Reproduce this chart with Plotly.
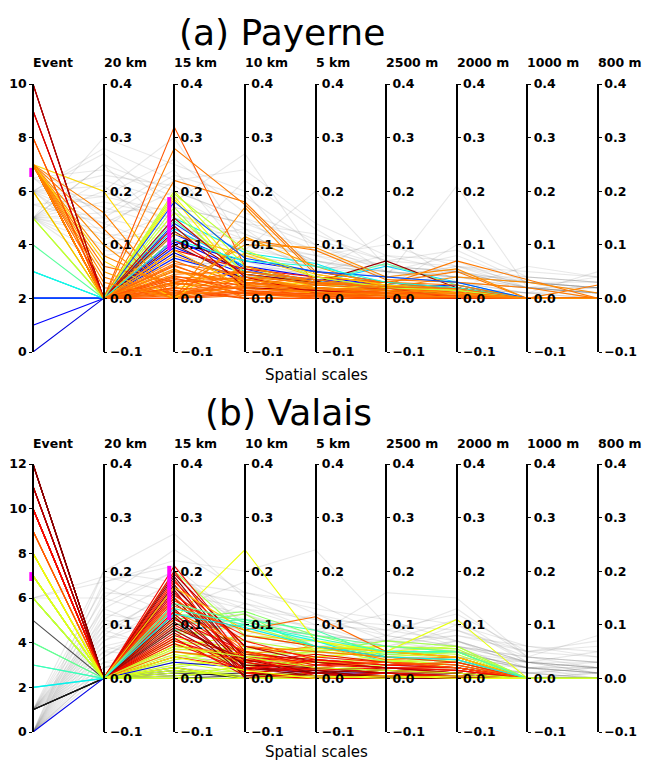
import numpy as np
import plotly.graph_objects as go

# ---------------------------------------------------------------- data
SCALES = ["20 km", "15 km", "10 km", "5 km", "2500 m", "2000 m", "1000 m", "800 m"]
AXIS_NAMES = ["Event"] + SCALES
SCORE_TICKS = [-0.1, 0.0, 0.1, 0.2, 0.3, 0.4]

# Payerne: highlighted events (event index, colour value, scores per scale)
payerne_event = [0, 1, 2, 2, 2, 2, 2, 3, 3, 4, 5, 5, 6, 6, 7, 7, 10, 10, 9, 9,
                 8, 7, 7, 7, 7, 7, 7, 7, 7, 7, 7, 7, 7, 7, 7, 7, 7, 7, 7, 7,
                 7, 7, 7, 7, 7, 7, 7, 7, 8, 6, 7, 7, 7, 10, 9, 2, 3, 5,
                 7, 7, 7, 7, 7, 8, 7, 7, 7, 7]
payerne_hue = [0.08, 0.12, 0.15, 0.13, 0.17, 0.14, 0.16, 0.36, 0.33, 0.46, 0.56, 0.60, 0.63, 0.61, 0.66, 0.68, 1.00, 0.98, 0.88, 0.90,
               0.82, 0.78, 0.78, 0.76, 0.78, 0.76, 0.74, 0.77, 0.79, 0.80, 0.78, 0.77, 0.80, 0.79, 0.80, 0.81, 0.78, 0.79, 0.80, 0.81,
               0.77, 0.80, 0.76, 0.82, 0.80, 0.79, 0.80, 0.82, 0.80, 0.72, 0.70, 0.69, 0.83, 0.95, 0.93, 0.20, 0.38, 0.58,
               0.80, 0.79, 0.81, 0.78, 0.80, 0.82, 0.77, 0.80, 0.79, 0.76]
payerne_scores = [
    [0, 0.085, 0.03, 0.02, 0.01, 0.005, 0, 0],
    [0, 0.11, 0.05, 0.035, 0.025, 0.015, 0, 0],
    [0, 0.095, 0.045, 0.03, 0.02, 0.02, 0, 0],
    [0, 0.12, 0.06, 0.04, 0.025, 0.02, 0, 0],
    [0, 0.14, 0.055, 0.025, 0.02, 0.025, 0, 0],
    [0, 0.105, 0.07, 0.05, 0.03, 0.015, 0, 0],
    [0, 0.075, 0.04, 0.035, 0.015, 0.01, 0, 0],
    [0, 0.15, 0.085, 0.065, 0.02, 0.01, 0, 0],
    [0, 0.13, 0.06, 0.03, 0.06, 0.03, 0, 0],
    [0, 0.145, 0.05, 0.03, 0.065, 0.025, 0, 0],
    [0, 0.17, 0.03, 0.015, 0.01, 0.005, 0, 0],
    [0, 0.16, 0.04, 0.03, 0.025, 0.02, 0, 0],
    [0, 0.19, 0.045, 0.025, 0.02, 0.01, 0, 0],
    [0, 0.2, 0.06, 0.02, 0.015, 0.01, 0, 0],
    [0, 0.185, 0.03, 0.02, 0.01, 0.01, 0, 0],
    [0.2, 0.02, 0.035, 0.025, 0.015, 0.005, 0, 0],
    [0, 0.1, 0.035, 0.02, 0.015, 0.01, 0, 0],
    [0, 0.125, 0.045, 0.03, 0.07, 0.02, 0, 0],
    [0, 0.11, 0.03, 0.02, 0.01, 0.005, 0, 0],
    [0, 0.09, 0.055, 0.04, 0.03, 0.02, 0, 0],
    [0, 0.32, 0.06, 0.03, 0.02, 0.015, 0, 0],
    [0, 0.28, 0.175, 0.045, 0.025, 0.07, 0.035, 0],
    [0, 0.22, 0.18, 0.05, 0.03, 0.05, 0.0, 0.025],
    [0.1, 0.0, 0.17, 0.03, 0.02, 0.04, 0.03, 0.01],
    [0.13, 0.0, 0.11, 0.09, 0.035, 0.03, 0.02, 0],
    [0.08, 0.02, 0.1, 0.095, 0.04, 0.055, 0.0, 0.0],
    [0.05, 0.0, 0.115, 0.06, 0.02, 0.015, 0, 0],
    [0.16, 0.0, 0.04, 0.02, 0.01, 0.0, 0, 0],
    [0.06, 0.03, 0.05, 0.03, 0.02, 0.01, 0, 0],
    [0, 0.06, 0.02, 0.01, 0.005, 0.0, 0, 0],
    [0, 0.05, 0.03, 0.015, 0.02, 0.01, 0, 0],
    [0, 0.04, 0.035, 0.02, 0.01, 0.02, 0, 0],
    [0, 0.02, 0.01, 0.005, 0.01, 0.0, 0, 0],
    [0, 0.01, 0.02, 0.01, 0.0, 0.005, 0, 0],
    [0, 0.03, 0.005, 0.02, 0.015, 0.0, 0, 0],
    [0, 0.0, 0.015, 0.0, 0.0, 0.0, 0, 0],
    [0, 0.045, 0.05, 0.035, 0.02, 0.01, 0, 0],
    [0, 0.07, 0.025, 0.04, 0.03, 0.015, 0, 0],
    [0, 0.025, 0.04, 0.01, 0.005, 0.02, 0, 0],
    [0, 0.015, 0.0, 0.0, 0.01, 0.0, 0, 0],
    [0.04, 0.0, 0.06, 0.03, 0.025, 0.01, 0, 0],
    [0.02, 0.01, 0.01, 0.0, 0.0, 0.0, 0, 0],
    [0, 0.055, 0.0, 0.005, 0.0, 0.0, 0, 0],
    [0, 0.035, 0.025, 0.015, 0.01, 0.005, 0, 0],
    [0, 0.005, 0.03, 0.02, 0.005, 0.0, 0, 0],
    [0, 0.065, 0.045, 0.025, 0.03, 0.025, 0, 0],
    [0, 0.0, 0.005, 0.01, 0.02, 0.0, 0, 0],
    [0, 0.02, 0.0, 0.0, 0.0, 0.0, 0, 0],
    [0, 0.012, 0.02, 0.015, 0.01, 0.0, 0, 0],
    [0, 0.09, 0.02, 0.01, 0.02, 0.01, 0, 0],
    [0, 0.12, 0.08, 0.04, 0.02, 0.01, 0, 0],
    [0.07, 0.0, 0.085, 0.045, 0.025, 0.015, 0, 0],
    [0, 0.0, 0.01, 0.005, 0.0, 0.0, 0, 0],
    [0, 0.135, 0.02, 0.015, 0.005, 0.0, 0, 0],
    [0, 0.15, 0.04, 0.01, 0.02, 0.0, 0, 0],
    [0, 0.18, 0.075, 0.05, 0.04, 0.03, 0, 0],
    [0, 0.11, 0.07, 0.06, 0.03, 0.02, 0, 0],
    [0, 0.195, 0.09, 0.04, 0.02, 0.015, 0, 0],
    [0, 0.008, 0.012, 0.008, 0.004, 0.003, 0, 0],
    [0, 0.028, 0.018, 0.012, 0.008, 0.006, 0, 0],
    [0, 0.038, 0.008, 0.003, 0.006, 0.002, 0, 0],
    [0, 0.052, 0.028, 0.018, 0.012, 0.008, 0, 0],
    [0, 0.018, 0.022, 0.025, 0.018, 0.012, 0, 0],
    [0, 0.042, 0.015, 0.008, 0.015, 0.004, 0, 0],
    [0.03, 0.0, 0.025, 0.012, 0.006, 0.003, 0, 0],
    [0, 0.062, 0.012, 0.006, 0.002, 0.001, 0, 0],
    [0, 0.03, 0.04, 0.028, 0.022, 0.018, 0, 0],
    [0, 0.08, 0.035, 0.02, 0.015, 0.01, 0, 0],
]

# Payerne: remaining (non-highlighted) cases
payerne_bg_event = [5, 5, 5, 5, 5, 5, 5, 5, 5, 5, 5, 5, 6, 6, 6, 6, 6, 6, 6, 6,
                    6.5, 6.5, 6.5, 7, 7, 7, 5.5, 5.5, 6, 5]
payerne_bg_scores = [
    [0.3, 0.25, 0.2, 0.05, 0.03, 0.02, 0.0, 0.0],
    [0.25, 0.2, 0.15, 0.1, 0.05, 0.03, 0.02, 0.01],
    [0.22, 0.18, 0.27, 0.08, 0.04, 0.05, 0.03, 0.02],
    [0.2, 0.3, 0.1, 0.06, 0.04, 0.03, 0.01, 0.0],
    [0.18, 0.15, 0.12, 0.07, 0.04, 0.21, 0.02, 0.01],
    [0.15, 0.12, 0.09, 0.2, 0.06, 0.04, 0.03, 0.02],
    [0.13, 0.22, 0.18, 0.05, 0.12, 0.03, 0.01, 0.05],
    [0.12, 0.08, 0.06, 0.04, 0.03, 0.02, 0.06, 0.04],
    [0.1, 0.14, 0.07, 0.03, 0.02, 0.1, 0.04, 0.03],
    [0.08, 0.1, 0.05, 0.05, 0.04, 0.03, 0.02, 0.02],
    [0.06, 0.05, 0.04, 0.03, 0.03, 0.02, 0.01, 0.01],
    [0.25, 0.12, 0.08, 0.06, 0.05, 0.04, 0.03, 0.03],
    [0.27, 0.17, 0.14, 0.09, 0.06, 0.05, 0.02, 0.01],
    [0.23, 0.21, 0.13, 0.04, 0.03, 0.04, 0.02, 0.0],
    [0.19, 0.26, 0.16, 0.11, 0.07, 0.09, 0.03, 0.02],
    [0.17, 0.13, 0.11, 0.05, 0.04, 0.06, 0.04, 0.03],
    [0.14, 0.09, 0.22, 0.13, 0.05, 0.04, 0.02, 0.04],
    [0.11, 0.16, 0.1, 0.08, 0.06, 0.05, 0.03, 0.02],
    [0.09, 0.07, 0.06, 0.05, 0.08, 0.07, 0.02, 0.01],
    [0.21, 0.11, 0.05, 0.03, 0.02, 0.02, 0.01, 0.0],
    [0.24, 0.19, 0.12, 0.07, 0.05, 0.08, 0.03, 0.01],
    [0.16, 0.24, 0.08, 0.06, 0.03, 0.02, 0.01, 0.02],
    [0.12, 0.11, 0.13, 0.09, 0.04, 0.03, 0.02, 0.01],
    [0.2, 0.14, 0.09, 0.07, 0.05, 0.04, 0.04, 0.03],
    [0.15, 0.23, 0.19, 0.1, 0.06, 0.05, 0.02, 0.01],
    [0.1, 0.06, 0.07, 0.04, 0.03, 0.06, 0.03, 0.02],
    [0.19, 0.16, 0.11, 0.08, 0.1, 0.06, 0.05, 0.04],
    [0.14, 0.2, 0.15, 0.06, 0.05, 0.04, 0.03, 0.02],
    [0.28, 0.22, 0.24, 0.14, 0.08, 0.05, 0.02, 0.01],
    [0.16, 0.17, 0.14, 0.12, 0.07, 0.06, 0.02, 0.02],
]
payerne_event_band = [6.53, 6.87]
payerne_15km_band = [0.09, 0.189]

# Valais: highlighted events (None colour value = drawn in black)
valais_event = [6, 6, 6, 7, 7, 7, 8, 8, 6, 7, 6, 7, 8, 6, 7, 8, 6, 6, 4, 3,
                2, 8, 7, 6, 8, 7, 5, 1, 1, 0,
                12, 12, 11, 11, 10, 10, 10, 10, 12, 11, 10, 10, 12, 11, 10, 10, 10, 11, 12, 10,
                10, 9, 9, 9, 9, 10, 11, 10, 12, 11, 10, 10, 12, 9, 8,
                3, 2, 4, 7, 8, 6, 1, 1]
valais_hue = [0.60, 0.60, 0.58, 0.60, 0.61, 0.59, 0.60, 0.60, 0.58, 0.57, 0.60, 0.60, 0.60, 0.59, 0.60, 0.60, 0.55, 0.52, 0.48, 0.44,
              0.38, 0.64, 0.63, 0.56, 0.62, 0.60, None, None, None, 0.10,
              1.00, 0.99, 0.97, 0.96, 0.90, 0.90, 0.88, 0.92, 0.95, 0.93, 0.90, 0.89, 0.97, 0.92, 0.90, 0.91, 0.90, 0.94, 0.98, 0.87,
              0.86, 0.80, 0.78, 0.76, 0.80, 0.90, 0.95, 0.88, 1.00, 0.96, 0.90, 0.90, 0.99, 0.82, 0.70,
              0.42, 0.36, 0.47, 0.62, 0.64, 0.60, None, None]
valais_scores = [
    [0, 0.0, 0.0, 0.0, 0.0, 0.0, 0, 0],
    [0, 0.01, 0.02, 0.03, 0.02, 0.02, 0, 0],
    [0, 0.02, 0.04, 0.05, 0.04, 0.03, 0, 0],
    [0, 0.03, 0.01, 0.02, 0.01, 0.01, 0, 0],
    [0, 0.04, 0.06, 0.04, 0.05, 0.06, 0, 0],
    [0, 0.05, 0.03, 0.06, 0.03, 0.04, 0, 0],
    [0, 0.06, 0.08, 0.07, 0.04, 0.05, 0, 0],
    [0, 0.07, 0.05, 0.03, 0.035, 0.02, 0, 0],
    [0, 0.08, 0.1, 0.06, 0.05, 0.045, 0, 0],
    [0, 0.09, 0.07, 0.05, 0.06, 0.055, 0, 0],
    [0, 0.015, 0.005, 0.01, 0.015, 0.01, 0, 0],
    [0, 0.025, 0.035, 0.015, 0.025, 0.03, 0, 0],
    [0, 0.045, 0.02, 0.035, 0.02, 0.015, 0, 0],
    [0, 0.035, 0.05, 0.045, 0.03, 0.035, 0, 0],
    [0, 0.055, 0.045, 0.025, 0.045, 0.04, 0, 0],
    [0, 0.005, 0.015, 0.02, 0.01, 0.005, 0, 0],
    [0, 0.1, 0.12, 0.05, 0.07, 0.06, 0, 0],
    [0, 0.11, 0.125, 0.08, 0.05, 0.04, 0, 0],
    [0, 0.12, 0.11, 0.06, 0.045, 0.05, 0, 0],
    [0, 0.1, 0.11, 0.09, 0.04, 0.03, 0, 0],
    [0, 0.09, 0.1, 0.07, 0.03, 0.02, 0, 0],
    [0, 0.11, 0.24, 0.07, 0.05, 0.04, 0, 0],
    [0, 0.065, 0.03, 0.04, 0.05, 0.11, 0, 0],
    [0, 0.2, 0.08, 0.06, 0.04, 0.03, 0, 0],
    [0, 0.075, 0.055, 0.055, 0.06, 0.05, 0, 0],
    [0, 0.0, 0.025, 0.03, 0.035, 0.025, 0, 0],
    [0, 0.02, 0.0, 0.01, 0.005, 0.0, 0, 0],
    [0, 0.005, 0.01, 0.0, 0.0, 0.0, 0, 0],
    [0, 0.01, 0.005, 0.005, 0.0, 0.0, 0, 0],
    [0, 0.03, 0.02, 0.01, 0.01, 0.005, 0, 0],
    [0, 0.19, 0.03, 0.01, 0.02, 0.01, 0, 0],
    [0, 0.15, 0.02, 0.015, 0.01, 0.005, 0, 0],
    [0, 0.17, 0.04, 0.02, 0.01, 0.01, 0, 0],
    [0, 0.13, 0.01, 0.005, 0.005, 0.0, 0, 0],
    [0, 0.21, 0.05, 0.03, 0.02, 0.015, 0, 0],
    [0, 0.2, 0.035, 0.02, 0.015, 0.01, 0, 0],
    [0, 0.18, 0.06, 0.04, 0.03, 0.02, 0, 0],
    [0, 0.16, 0.025, 0.01, 0.005, 0.005, 0, 0],
    [0, 0.14, 0.045, 0.035, 0.025, 0.02, 0, 0],
    [0, 0.12, 0.015, 0.02, 0.01, 0.0, 0, 0],
    [0, 0.11, 0.05, 0.025, 0.03, 0.025, 0, 0],
    [0, 0.1, 0.03, 0.015, 0.02, 0.01, 0, 0],
    [0, 0.09, 0.02, 0.01, 0.005, 0.005, 0, 0],
    [0, 0.085, 0.01, 0.02, 0.015, 0.01, 0, 0],
    [0, 0.08, 0.04, 0.03, 0.02, 0.02, 0, 0],
    [0, 0.075, 0.005, 0.0, 0.0, 0.0, 0, 0],
    [0, 0.07, 0.03, 0.045, 0.03, 0.02, 0, 0],
    [0, 0.165, 0.0, 0.01, 0.005, 0.0, 0, 0],
    [0, 0.175, 0.02, 0.005, 0.01, 0.0, 0, 0],
    [0, 0.155, 0.07, 0.035, 0.025, 0.03, 0, 0],
    [0, 0.145, 0.08, 0.06, 0.04, 0.03, 0, 0],
    [0, 0.135, 0.09, 0.115, 0.05, 0.04, 0, 0],
    [0, 0.125, 0.06, 0.05, 0.04, 0.035, 0, 0],
    [0, 0.06, 0.045, 0.06, 0.035, 0.04, 0, 0],
    [0, 0.05, 0.035, 0.03, 0.03, 0.025, 0, 0],
    [0, 0.04, 0.02, 0.025, 0.02, 0.015, 0, 0],
    [0, 0.195, 0.06, 0.03, 0.02, 0.01, 0, 0],
    [0, 0.185, 0.01, 0.0, 0.005, 0.005, 0, 0],
    [0, 0.105, 0.025, 0.02, 0.015, 0.01, 0, 0],
    [0, 0.095, 0.035, 0.01, 0.0, 0.0, 0, 0],
    [0, 0.065, 0.015, 0.035, 0.025, 0.02, 0, 0],
    [0, 0.125, 0.04, 0.005, 0.01, 0.005, 0, 0],
    [0, 0.115, 0.005, 0.015, 0.0, 0.0, 0, 0],
    [0, 0.15, 0.05, 0.02, 0.03, 0.02, 0, 0],
    [0, 0.17, 0.09, 0.06, 0.05, 0.04, 0, 0],
    [0, 0.13, 0.1, 0.075, 0.05, 0.05, 0, 0],
    [0, 0.12, 0.095, 0.06, 0.04, 0.035, 0, 0],
    [0, 0.14, 0.105, 0.08, 0.06, 0.05, 0, 0],
    [0, 0.02, 0.0, 0.005, 0.0, 0.005, 0, 0],
    [0, 0.04, 0.015, 0.0, 0.005, 0.0, 0, 0],
    [0, 0.06, 0.04, 0.02, 0.015, 0.01, 0, 0],
    [0, 0.0, 0.005, 0.01, 0.0, 0.0, 0, 0],
    [0, 0.015, 0.0, 0.0, 0.005, 0.0, 0, 0],
]

valais_bg_event = [0, 0, 0, 0, 0, 0, 0, 0, 0, 0, 0, 0, 0, 0, 0, 1, 1, 1, 1, 1,
                   1, 1, 1, 1, 1, 1, 1, 6, 6, 6, 0, 0, 1, 1, 0, 1, 0, 1, 0, 1]
valais_bg_scores = [
    [0.2, 0.27, 0.15, 0.1, 0.06, 0.05, 0.02, 0.01],
    [0.18, 0.22, 0.2, 0.24, 0.1, 0.06, 0.03, 0.02],
    [0.16, 0.15, 0.12, 0.08, 0.16, 0.15, 0.04, 0.08],
    [0.14, 0.2, 0.1, 0.06, 0.05, 0.1, 0.06, 0.05],
    [0.12, 0.1, 0.08, 0.07, 0.04, 0.03, 0.02, 0.03],
    [0.1, 0.13, 0.18, 0.12, 0.07, 0.08, 0.05, 0.04],
    [0.08, 0.06, 0.05, 0.04, 0.03, 0.05, 0.02, 0.02],
    [0.06, 0.09, 0.07, 0.09, 0.06, 0.04, 0.03, 0.01],
    [0.05, 0.04, 0.03, 0.03, 0.02, 0.02, 0.01, 0.0],
    [0.03, 0.02, 0.06, 0.05, 0.08, 0.06, 0.01, 0.02],
    [0.02, 0.05, 0.04, 0.02, 0.03, 0.02, 0.0, 0.01],
    [0.01, 0.03, 0.02, 0.04, 0.02, 0.03, 0.01, 0.0],
    [0.04, 0.11, 0.09, 0.06, 0.05, 0.07, 0.03, 0.03],
    [0.09, 0.16, 0.11, 0.1, 0.09, 0.12, 0.05, 0.06],
    [0.13, 0.08, 0.14, 0.11, 0.1, 0.09, 0.04, 0.02],
    [0.2, 0.18, 0.13, 0.09, 0.12, 0.1, 0.03, 0.01],
    [0.17, 0.12, 0.09, 0.05, 0.04, 0.07, 0.02, 0.02],
    [0.15, 0.24, 0.16, 0.14, 0.08, 0.06, 0.04, 0.03],
    [0.11, 0.07, 0.1, 0.08, 0.07, 0.05, 0.03, 0.05],
    [0.07, 0.14, 0.06, 0.05, 0.04, 0.04, 0.02, 0.01],
    [0.05, 0.1, 0.12, 0.07, 0.06, 0.08, 0.06, 0.04],
    [0.03, 0.06, 0.05, 0.03, 0.04, 0.03, 0.01, 0.02],
    [0.02, 0.04, 0.03, 0.06, 0.05, 0.04, 0.02, 0.0],
    [0.01, 0.02, 0.01, 0.02, 0.01, 0.02, 0.0, 0.01],
    [0.04, 0.12, 0.08, 0.12, 0.09, 0.07, 0.03, 0.02],
    [0.08, 0.17, 0.14, 0.09, 0.06, 0.09, 0.05, 0.07],
    [0.1, 0.09, 0.07, 0.04, 0.03, 0.02, 0.01, 0.01],
    [0.18, 0.21, 0.1, 0.08, 0.07, 0.06, 0.03, 0.02],
    [0.19, 0.16, 0.13, 0.11, 0.08, 0.13, 0.04, 0.03],
    [0.15, 0.11, 0.12, 0.06, 0.05, 0.04, 0.02, 0.01],
    [0.0, 0.01, 0.0, 0.01, 0.0, 0.01, 0.0, 0.0],
    [0.0, 0.005, 0.01, 0.0, 0.01, 0.0, 0.0, 0.0],
    [0.0, 0.01, 0.005, 0.01, 0.005, 0.0, 0.0, 0.0],
    [0.0, 0.02, 0.01, 0.0, 0.0, 0.01, 0.0, 0.0],
    [0.07, 0.12, 0.1, 0.08, 0.06, 0.05, 0.02, 0.01],
    [0.06, 0.03, 0.04, 0.05, 0.03, 0.02, 0.01, 0.0],
    [0.11, 0.18, 0.16, 0.13, 0.11, 0.07, 0.03, 0.02],
    [0.13, 0.2, 0.09, 0.07, 0.05, 0.06, 0.04, 0.03],
    [0.02, 0.07, 0.06, 0.07, 0.04, 0.05, 0.02, 0.01],
    [0.09, 0.05, 0.08, 0.06, 0.07, 0.11, 0.03, 0.02],
]
valais_event_band = [6.76, 7.16]
valais_15km_band = [0.109, 0.21]

PANELS = [
    dict(title="(a) Payerne", event_max=10, event=payerne_event, hue=payerne_hue,
         scores=payerne_scores, bg_event=payerne_bg_event, bg_scores=payerne_bg_scores,
         event_band=payerne_event_band, scale_band=payerne_15km_band),
    dict(title="(b) Valais", event_max=12, event=valais_event, hue=valais_hue,
         scores=valais_scores, bg_event=valais_bg_event, bg_scores=valais_bg_scores,
         event_band=valais_event_band, scale_band=valais_15km_band),
]

# ---------------------------------------------------------------- styling / layout
W, H = 653, 762
AX_FIRST_PX, AX_LAST_PX = 33, 598
MARGIN_L, MARGIN_R = 20, 55
UNIT_PX = (AX_LAST_PX - AX_FIRST_PX) / 8
X_LO = -(AX_FIRST_PX - MARGIN_L) / UNIT_PX
X_HI = 8 + ((W - MARGIN_R) - AX_LAST_PX) / UNIT_PX
PLOT_W = W - MARGIN_L - MARGIN_R

PANEL_PX = [dict(top=84, bottom=352, title_y=32, title_x=282, names_y=63, xlabel_y=375),
            dict(top=464, bottom=732, title_y=412, title_x=288, names_y=443, xlabel_y=752)]

FONT = "DejaVu Sans"
TICK_FONT = dict(family=FONT, size=12.5, color="black", weight="bold")
BAND_COLOR = "#ff00ff"
LINE_W = 1.1


def jet(v):
    """matplotlib-style jet colour map."""
    r = np.interp(v, [0, 0.35, 0.66, 0.89, 1], [0, 0, 1, 1, 0.5])
    g = np.interp(v, [0, 0.125, 0.375, 0.64, 0.91, 1], [0, 0, 1, 1, 0, 0])
    b = np.interp(v, [0, 0.11, 0.34, 0.65, 1], [0.5, 1, 1, 0, 0])
    return f"rgb({int(r * 255)},{int(g * 255)},{int(b * 255)})"


def xpos(i):
    return (i - X_LO) / (X_HI - X_LO)


def ypaper(px):
    return 1 - px / H


def yref_of(n):
    return "y" if n == 1 else f"y{n}"


def ykey_of(n):
    return "yaxis" if n == 1 else f"yaxis{n}"


fig = go.Figure()
layout = dict(width=W, height=H,
              margin=dict(l=MARGIN_L, r=MARGIN_R, t=0, b=0, pad=0, autoexpand=False),
              paper_bgcolor="white", plot_bgcolor="rgba(0,0,0,0)", showlegend=False)
annotations = []

axis_common = dict(showline=True, linecolor="black", linewidth=1.5, ticks="outside",
                   ticklen=3, tickwidth=1, tickcolor="black", showgrid=False,
                   zeroline=False, tickfont=TICK_FONT, fixedrange=True, automargin=False)

for p, panel in enumerate(PANELS):
    px = PANEL_PX[p]
    base = 1 + p * 9
    xname = "xaxis" if p == 0 else "xaxis2"
    xref = "x" if p == 0 else "x2"
    yref_base = yref_of(base)
    yref_event = yref_of(base + 1)
    domain = [ypaper(px["bottom"]), ypaper(px["top"])]
    emax = panel["event_max"]

    def to_score(e, emax=emax):
        # event index expressed on the score axis scale
        return -0.1 + e / emax * 0.5

    layout[xname] = dict(domain=[0, 1], range=[X_LO, X_HI], visible=False,
                         anchor=yref_base, fixedrange=True)

    # 20 km axis carries the polylines; the other axes overlay it
    layout[ykey_of(base)] = dict(
        axis_common, domain=domain, range=[-0.1, 0.4], anchor="free",
        position=xpos(1), side="right", tickvals=SCORE_TICKS, tickformat=".1f")
    layout[ykey_of(base + 1)] = dict(
        axis_common, overlaying=yref_base, range=[0, emax], anchor="free",
        position=xpos(0), side="left", tickvals=list(range(0, emax + 1, 2)))
    for i in range(2, 9):
        layout[ykey_of(base + i)] = dict(
            axis_common, overlaying=yref_base, range=[-0.1, 0.4], anchor="free",
            position=xpos(i), side="right", tickvals=SCORE_TICKS, tickformat=".1f")

    xs = list(range(9))
    for e, vals in zip(panel["bg_event"], panel["bg_scores"]):
        fig.add_trace(go.Scatter(x=xs, y=[to_score(e)] + vals, mode="lines",
                                 line=dict(color="rgba(110,110,110,0.16)", width=LINE_W),
                                 xaxis=xref, yaxis=yref_base, hoverinfo="skip"))
    # black (uncoloured) cases first, coloured cases on top
    rows = list(zip(panel["event"], panel["hue"], panel["scores"]))
    rows = [r for r in rows if r[1] is None] + [r for r in rows if r[1] is not None]
    for e, h, vals in rows:
        color = "rgba(20,20,20,0.75)" if h is None else jet(h)
        fig.add_trace(go.Scatter(x=xs, y=[to_score(e)] + vals, mode="lines",
                                 line=dict(color=color, width=LINE_W),
                                 xaxis=xref, yaxis=yref_base, hoverinfo="skip"))

    # highlighted ranges beside the Event and 15 km axes
    fig.add_trace(go.Scatter(x=[-1.7 / UNIT_PX] * 2, y=panel["event_band"],
                             mode="lines", line=dict(color=BAND_COLOR, width=4),
                             xaxis=xref, yaxis=yref_event, hoverinfo="skip"))
    fig.add_trace(go.Scatter(x=[2 - 5 / UNIT_PX] * 2, y=panel["scale_band"],
                             mode="lines", line=dict(color=BAND_COLOR, width=4),
                             xaxis=xref, yaxis=yref_of(base + 2), hoverinfo="skip"))
    # register the remaining scale axes with the subplot so they are drawn
    for i in range(3, 9):
        fig.add_trace(go.Scatter(x=[None], y=[None], mode="lines",
                                 xaxis=xref, yaxis=yref_of(base + i), hoverinfo="skip"))

    annotations.append(dict(text=panel["title"], xref="paper", yref="paper",
                            x=(px["title_x"] - MARGIN_L) / PLOT_W, y=ypaper(px["title_y"]),
                            xanchor="center", yanchor="middle", showarrow=False,
                            font=dict(family=FONT, size=36, color="black")))
    for i, name in enumerate(AXIS_NAMES):
        annotations.append(dict(text=name, xref="paper", yref="paper",
                                x=xpos(i), y=ypaper(px["names_y"]), xanchor="left",
                                yanchor="middle", showarrow=False, xshift=-2,
                                font=dict(family=FONT, size=12.5, color="black", weight="bold")))
    annotations.append(dict(text="Spatial scales", xref="paper", yref="paper",
                            x=(316 - MARGIN_L) / PLOT_W, y=ypaper(px["xlabel_y"]),
                            xanchor="center", yanchor="middle", showarrow=False,
                            font=dict(family=FONT, size=15, color="black")))

layout["annotations"] = annotations
fig.update_layout(**layout)
fig.write_html("out.html")
